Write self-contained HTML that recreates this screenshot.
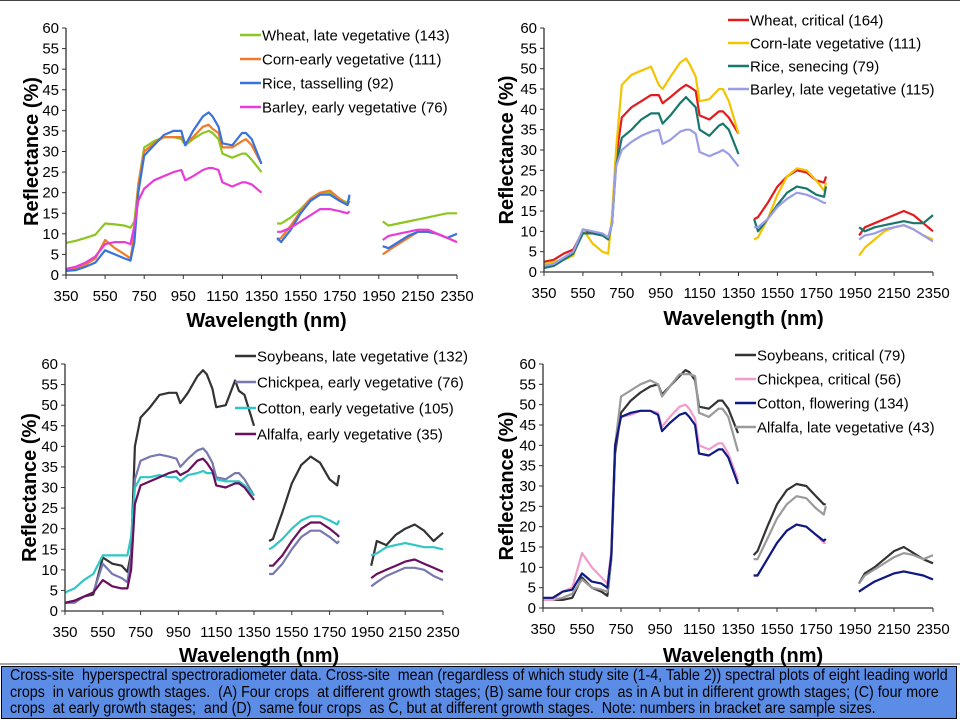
<!DOCTYPE html>
<html><head><meta charset="utf-8">
<style>
body{margin:0;background:#fff;width:960px;height:720px;overflow:hidden;font-family:"Liberation Sans",Arial,sans-serif;}
#caption{position:absolute;left:1px;top:666px;width:956px;height:53px;background:#5b8ce6;border:1px solid #000;box-sizing:border-box;overflow:hidden;}
#captext{position:absolute;left:8px;top:1px;width:1200px;transform:scale(0.89,1);transform-origin:0 0;font-family:"Liberation Sans",sans-serif;font-size:16px;line-height:16.5px;color:#000;white-space:nowrap;}
</style></head><body>
<svg id="chart" width="960" height="666" style="position:absolute;left:0;top:0">
<line x1="0" y1="0.5" x2="960" y2="0.5" stroke="#444" stroke-width="1"/>
<line x1="0" y1="664" x2="960" y2="664" stroke="#888" stroke-width="1.5"/>
</svg>
<div id="caption"><div id="captext">Cross-site&nbsp; hyperspectral spectroradiometer data. Cross-site&nbsp; mean (regardless of which study site (1-4, Table 2)) spectral plots of eight leading world<br>crops&nbsp; in various growth stages.&nbsp; (A) Four crops&nbsp; at different growth stages; (B) same four crops&nbsp; as in A but in different growth stages; (C) four more<br>crops&nbsp; at early growth stages;&nbsp; and (D)&nbsp; same four crops&nbsp; as C, but at different growth stages.&nbsp; Note: numbers in bracket are sample sizes.</div></div>
<script>
const wavelengths=[350,400,450,500,550,600,650,680,700,720,750,800,850,900,940,960,1000,1050,1080,1100,1130,1150,1200,1250,1270,1300,1350,null,1430,1450,1500,1550,1600,1650,1700,1750,1790,1800,null,1970,2000,2050,2100,2150,2200,2250,2300,2350];
const xTicks=[350,550,750,950,1150,1350,1550,1750,1950,2150,2350];
const yTicks=[0,5,10,15,20,25,30,35,40,45,50,55,60];
const N=null;
// Panel A
const wheatLateVeg=[7.8,8.3,9,9.8,12.5,12.3,12,11.5,13,22,31,32.5,33.5,33.5,33,31.5,33,34.5,35,34.5,33,29.5,28.5,29.5,29.5,28,25,N,12.5,12.5,14,16,18.5,20,20,18.5,17.5,19,N,13,12,12.5,13,13.5,14,14.5,15,15];
const cornEarlyVeg=[1,1.5,2.5,4,8.5,6.5,5,4,10,22,30,32,33.5,33.5,33.5,32,33.5,36,36.5,35.5,34.5,31,31,32.5,33,31.5,27,N,8.5,9,12,15.5,18.5,20,20.5,18.5,17,18,N,5,6,7.5,9,10.5,10.5,10,9,8];
const riceTasselling=[1,1.2,2,3,6,5,4,3.5,8,20,29,31.5,34,35,35,31.5,35,38.5,39.5,38.5,36,32,31.5,34.5,34.5,33,27,N,9,8,11,15,18,19.5,19.5,18,17,19.5,N,7,6.5,8,9.5,10.5,10.5,10,9,10];
const barleyEarlyVeg=[1.5,2,3,4.5,7.5,8,8,7.5,12,18,21,23,24,25,25.5,23,24,25.5,26,26,25.5,22.5,21.5,22.5,22.5,22,20,N,10.5,10.5,11.5,13,14.5,16,16,15.5,15,15.5,N,8.5,9.5,10,10.5,11,11,10,9,8];
// Panel B
const wheatCritical=[2.5,3,4.5,5.5,10,9.5,9,8.5,12,28,38,40.5,42,43.5,43.5,41.5,43,45,46,45.5,44.5,38.5,37.5,39.5,39.5,38,34,N,13,13.5,17,21,23.5,25,24.5,22.5,22,23.5,N,9,11,12,13,14,15,14,12,10];
const cornLateVeg=[2,2.5,3,4,10.5,7,5,4.5,14,30,46,48.5,49.5,50.5,46,45,48,51.5,52.5,51,48,42,42.5,45,45,42,34,N,8,8.5,13,19,23.5,25.5,25,22.5,20,22,N,4,6,8,10,11,11.5,10.5,9,8];
const riceSenecing=[1,1.5,3,4.5,9.5,9.5,9,8,12,26,33,35,37.5,39,39,36.5,38.5,41.5,43,42,40.5,35,33.5,36,36.5,35,29,N,13,10,13,16.5,19.5,21,20.5,19,18.5,21,N,11,10,11,11.5,12,12.5,12,12,14];
const barleyLateVeg=[1.5,2,3.5,5,10.5,10,9.5,8.5,12,26,30,32,33.5,34.5,35,31.5,32.5,34.5,35,35,34,29.5,28.5,29.5,30,29,26,N,11,11,13,16,18,19.5,19,18,17,17,N,8,9,9.5,10.5,11,11.5,10.5,9,7.5];
// Panel C
const soybeansLateVeg=[2,2.5,3.5,4,13,11.5,11,9.5,14,40,47,49.5,52.5,53,53,50.5,53,57,58.5,57.5,54,49.5,50,56,53.5,52.5,45,N,17,17.5,24,31,35.5,37.5,36,32,30.5,33,N,11,17,16,18.5,20,21,19.5,17,19];
const chickpeaEarlyVeg=[2,2,3.5,4.5,11.5,9,8,7,13,32,36.5,37.5,38,37.5,37,35,37,39,39.5,38.5,36,32.5,32,33.5,33.5,32,28,N,9,9,11.5,15,18,19.5,19.5,18,16.5,17,N,6,7,8.5,9.5,10.5,10.5,10,8.5,7.5];
const cottonEarlyVeg=[4.5,5.5,7.5,9,13.5,13.5,13.5,13.5,18,30,32.5,32.5,33,32.5,32.5,31.5,33,33.5,34,33.5,33.5,32,31.5,31.5,31.5,30.5,28,N,15,15.5,17.5,20,22,23,23,22,21,22,N,13.5,14,15.5,16,16.5,16,15.5,15.5,15];
const alfalfaEarlyVeg=[2,2.5,3.5,4.5,7.5,6,5.5,5.5,10,26,30.5,31.5,32.5,33.5,34,33,34,36.5,37,36,34,30.5,30,31,31,30,27,N,11,11,13.5,17,20,21.5,21.5,20,18.5,18,N,8,9,10,11,12,12.5,11.5,10.5,9.5];
// Panel D
const soybeansCritical=[2,2,2,2.5,7.5,5,4,3,12,38,48,51,53,54.5,55,52.5,54.5,57,58.5,58,56,49.5,49,51,51,49,43,N,13,14,20,25.5,29,30.5,30,27.5,25.5,25.5,N,6,8.5,10,12,14,15,13.5,12,11];
const chickpeaCritical=[2,2,4,5,13.5,10,7.5,6,14,40,47,47.5,48.5,48.5,48,44.5,47,49.5,50,49,46.5,40,39,40.5,40.5,38,31.5,N,8,8,12,16,19,20.5,20,18,16,16,N,4,5,6.5,7.5,8.5,9,8.5,8,7];
const cottonFlowering=[2.5,2.5,4,4.5,8.5,6.5,6,5,13,40,47,48,48.5,48.5,47.5,43.5,45.5,47.5,48,47,45,38,37.5,39,39,37,30.5,N,8,8,12,16,19,20.5,20,18,16.5,17,N,4,5,6.5,7.5,8.5,9,8.5,8,7];
const alfalfaLateVeg=[2,2,2.5,3.5,7,5,4.5,4,12,40,52,53.5,55,56,55,52,54.5,57.5,57.5,57.5,57,48,47,49,49,47,38.5,N,12,12,17,22,25.5,27.5,27,24.5,23,25,N,6,8,9.5,11,12.5,13.5,13,12,13];

const panels=[
 {id:'a',x0:66,x1:457,y0:275,y1:28,legX:240,legY:[35,59,83,107],xTitleY:327,yTitleX:36,
  series:[['wheat-late-vegetative',wheatLateVeg,'#8cc620','Wheat, late vegetative (143)'],['corn-early-vegetative',cornEarlyVeg,'#ee7b2c','Corn-early vegetative (111)'],['rice-tasselling',riceTasselling,'#3a72db','Rice, tasselling (92)'],['barley-early-vegetative',barleyEarlyVeg,'#e83cd8','Barley, early vegetative (76)']]},
 {id:'b',x0:544,x1:933,y0:272,y1:28,legX:728,legY:[20,43,66,89],xTitleY:325,yTitleX:511,
  series:[['wheat-critical',wheatCritical,'#e21b1d','Wheat, critical (164)'],['corn-late-vegetative',cornLateVeg,'#f3c400','Corn-late vegetative (111)'],['rice-senecing',riceSenecing,'#17776b','Rice, senecing (79)'],['barley-late-vegetative',barleyLateVeg,'#9a9ce8','Barley, late vegetative (115)']]},
 {id:'c',x0:65,x1:443,y0:611,y1:364,legX:235,legY:[356,382,408,434],xTitleY:662,yTitleX:34,
  series:[['soybeans-late-vegetative',soybeansLateVeg,'#333333','Soybeans, late vegetative (132)'],['chickpea-early-vegetative',chickpeaEarlyVeg,'#7878ae','Chickpea, early vegetative (76)'],['cotton-early-vegetative',cottonEarlyVeg,'#2fc6c4','Cotton, early vegetative (105)'],['alfalfa-early-vegetative',alfalfaEarlyVeg,'#6a0f5e','Alfalfa, early vegetative (35)']]},
 {id:'d',x0:543,x1:933,y0:608,y1:364,legX:735,legY:[355,379,403,427],xTitleY:662,yTitleX:511,
  series:[['soybeans-critical',soybeansCritical,'#333333','Soybeans, critical (79)'],['alfalfa-late-vegetative',alfalfaLateVeg,'#9a9a9a',null],['chickpea-critical',chickpeaCritical,'#f29ccb','Chickpea, critical (56)'],['cotton-flowering',cottonFlowering,'#0c1a82','Cotton, flowering (134)']],
  legendOrder:[['#333333','Soybeans, critical (79)'],['#f29ccb','Chickpea, critical (56)'],['#0c1a82','Cotton, flowering (134)'],['#9a9a9a','Alfalfa, late vegetative (43)']]}
];
const svg=document.getElementById('chart');
const NS='http://www.w3.org/2000/svg';
function mk(tag,attrs,parent){const e=document.createElementNS(NS,tag);for(const k in attrs)e.setAttribute(k,attrs[k]);(parent||svg).appendChild(e);return e;}
panels.forEach(p=>{
 const g=mk('g',{});
 
 
 const sx=v=>p.x0+(v-350)/2000*(p.x1-p.x0);
 const sy=v=>p.y0+v/60*(p.y1-p.y0);
 p.series.forEach(s=>{
  let d='',pen=false;
  wavelengths.forEach((w,i)=>{const v=s[1][i];if(w===null||v===null){pen=false;return;}d+=(pen?'L':'M')+sx(w).toFixed(1)+' '+sy(v).toFixed(1);pen=true;});
  const path=mk('path',{d:d,fill:'none',stroke:s[2],'stroke-width':2.2,'stroke-linejoin':'round'},g);
  
  
 });
 const ax=mk('path',{d:`M${p.x0} ${p.y1}V${p.y0}H${p.x1}`,fill:'none',stroke:'#333','stroke-width':1.3},g);
 
 
 yTicks.forEach(t=>{
  mk('line',{x1:p.x0-4,x2:p.x0,y1:sy(t),y2:sy(t),stroke:'#333','stroke-width':1},g);
  const tx=mk('text',{x:p.x0-7,y:sy(t)+5,'text-anchor':'end','font-size':15,fill:'#000'},g);
  tx.textContent=t;
  
  
 });
 xTicks.forEach(t=>{
  mk('line',{x1:sx(t),x2:sx(t),y1:p.y0,y2:p.y0+4,stroke:'#333','stroke-width':1},g);
  const tx=mk('text',{x:sx(t),y:p.y0+26,'text-anchor':'middle','font-size':15,fill:'#000'},g);
  tx.textContent=t;
  
  
 });
 const xt=mk('text',{x:(p.x0+p.x1)/2+5,y:p.xTitleY,'text-anchor':'middle','font-size':20,'font-weight':'bold',fill:'#000'},g);
 xt.textContent='Wavelength (nm)';
 
 
 const ym=(p.y0+p.y1)/2;
 const yt=mk('text',{x:p.yTitleX-12,y:ym,'text-anchor':'middle','font-size':20,'font-weight':'bold',fill:'#000',transform:`rotate(-90 ${p.yTitleX-12} ${ym}) translate(0 14)`},g);
 yt.textContent='Reflectance (%)';
 
 
 const leg=p.legendOrder||p.series.map(s=>[s[2],s[3]]);
 leg.forEach((l,i)=>{
  const le=mk('g',{},g);
  
  
  mk('line',{x1:p.legX,x2:p.legX+21,y1:p.legY[i],y2:p.legY[i],stroke:l[0],'stroke-width':2.5},le);
  const t=mk('text',{x:p.legX+22,y:p.legY[i]+5.5,'font-size':15,fill:'#000'},le);
  t.textContent=l[1];
 });
});
</script>
</body></html>
